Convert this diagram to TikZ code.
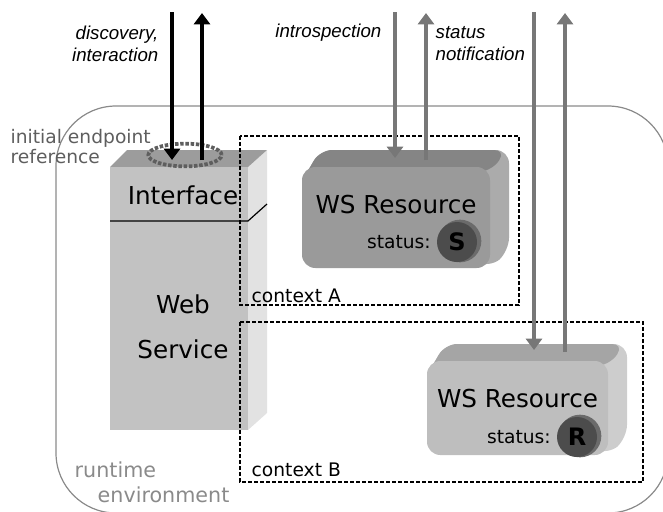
\documentclass[tikz,border=0pt]{standalone}
\usepackage{fontspec}
\setmainfont{DejaVu Sans}
\newfontfamily\labelfont{Liberation Sans}
\usetikzlibrary{arrows.meta,positioning,shapes.geometric}

\definecolor{wsfront}{HTML}{C2C2C2}
\definecolor{wstop}{HTML}{9C9C9C}
\definecolor{wsside}{HTML}{E2E2E2}
\definecolor{resAfront}{HTML}{9A9A9A}
\definecolor{resAtop}{HTML}{858585}
\definecolor{resAside}{HTML}{ABABAB}
\definecolor{resBfront}{HTML}{BEBEBE}
\definecolor{resBtop}{HTML}{A5A5A5}
\definecolor{resBside}{HTML}{CDCDCD}
\definecolor{flowgrey}{HTML}{777777}
\definecolor{envgrey}{HTML}{8A8A8A}
\definecolor{eprgrey}{HTML}{5E5E5E}

\begin{document}
\begin{tikzpicture}[x=0.75pt,y=-0.75pt,
  flow/.style={line width=3pt,-{Triangle[length=8.5pt,width=12pt]}},
  ctxbox/.style={line width=1.2pt,dash pattern=on 3pt off 1.5pt},
  ctxlabel/.style={anchor=west,font=\fontsize{14}{16}\selectfont},
  tag/.style={font=\labelfont\itshape\fontsize{14}{16.5}\selectfont}]
\useasboundingbox (0,0) rectangle (663,511);

% runtime environment
\begin{scope}
  \clip (0,0) rectangle (663,511);
  \draw[envgrey,line width=0.9pt,rounded corners=45pt] (56,106) rectangle (668,513);
\end{scope}
\node[anchor=west,envgrey,font=\fontsize{15.5}{18}\selectfont] (rt) at (70,470) {runtime};
\node[anchor=west,envgrey,font=\fontsize{15.5}{18}\selectfont] (env) at (93,495) {environment};

% web service block
\fill[wsside] (248,167) -- (267,150) -- (267,413) -- (248,430) -- cycle;
\fill[wstop] (110,167) -- (127,150) -- (267,150) -- (248,167) -- cycle;
\fill[wsfront] (110,167) rectangle (248,430);
\draw[line width=0.9pt] (110,221) -- (248,221) -- (267,204);
\node[font=\fontsize{18.5}{20}\selectfont] (iface) at (183,195) {Interface};
\node[align=center,font=\fontsize{18.5}{34}\selectfont] (ws) at (183,327) {Web\\Service};

% contexts
\draw[ctxbox] (240,136) rectangle (519,305);
\node[ctxlabel] (ctxA) at (247,296) {context A};
\draw[ctxbox] (240,322) rectangle (643,482);
\node[ctxlabel] (ctxB) at (247,470) {context B};

% WS resources
\foreach \n/\xa/\ya/\xb/\yb/\fc/\tc/\sc/\st/\cx/\cy in
  {A/302/167/490/268/resAfront/resAtop/resAside/S/457/242,
   B/427/361/608/455/resBfront/resBtop/resBside/R/577/437} {
  \fill[\sc,rounded corners=10pt] (\xa,\ya+14) -- (\xa+18,\ya-17) -- (\xb+19,\ya-17)
    -- (\xb+19,\yb-17) -- (\xb,\yb) -- cycle;
  \fill[\tc,rounded corners=9pt] (\xa,\ya+14) -- (\xa+18,\ya-17) -- (\xb+16,\ya-17)
    -- (\xb+2,\ya+4) -- cycle;
  \fill[\fc,rounded corners=10pt] (\xa,\ya) rectangle (\xb,\yb);
  \node[font=\fontsize{18.5}{20}\selectfont] (res\n) at ({(\xa+\xb)/2},\ya+38) {WS Resource};
  \fill[black!58] (\cx+3,\cy-1) circle (16pt);
  \node[circle,fill=black!70,minimum size=30pt,inner sep=0pt,
        font=\bfseries\fontsize{18}{18}\selectfont] (circ\n) at (\cx,\cy) {\st};
  \node[left=1pt of circ\n,font=\fontsize{14}{16}\selectfont] (stat\n) {status:};
}

% endpoint reference
\node[ellipse,draw=eprgrey,line width=2.8pt,dash pattern=on 2.6pt off 1.3pt,
      minimum width=55pt,minimum height=17pt] (epr) at (185,155) {};
\node[anchor=west,align=left,eprgrey,font=\fontsize{14}{15}\selectfont] (eprlabel) at (6,147) {initial endpoint\\reference};

% message flows
\coordinate (discIn) at (172,12);
\coordinate (discInEnd) at (172,160);
\coordinate (discOut) at (202,160);
\coordinate (discOutEnd) at (202,13);
\coordinate (introA) at (395,12);
\coordinate (introAEnd) at (395,158);
\coordinate (notiA) at (426,160);
\coordinate (notiAEnd) at (426,13);
\coordinate (introB) at (534,12);
\coordinate (introBEnd) at (534,350);
\coordinate (notiB) at (565,352);
\coordinate (notiBEnd) at (565,13);

\draw[flow] (discIn) -- (discInEnd);
\draw[flow] (discOut) -- (discOutEnd);
\draw[flow,flowgrey] (introA) -- (introAEnd);
\draw[flow,flowgrey] (notiA) -- (notiAEnd);
\draw[flow,flowgrey] (introB) -- (introBEnd);
\draw[flow,flowgrey] (notiB) -- (notiBEnd);

\node[tag,anchor=east,align=right] (disc) at (163,44) {discovery,\\interaction};
\node[tag,anchor=east] (intro) at (386,33) {introspection};
\node[tag,anchor=west,align=left] (noti) at (431,44) {status\\notification};
\end{tikzpicture}
\end{document}
